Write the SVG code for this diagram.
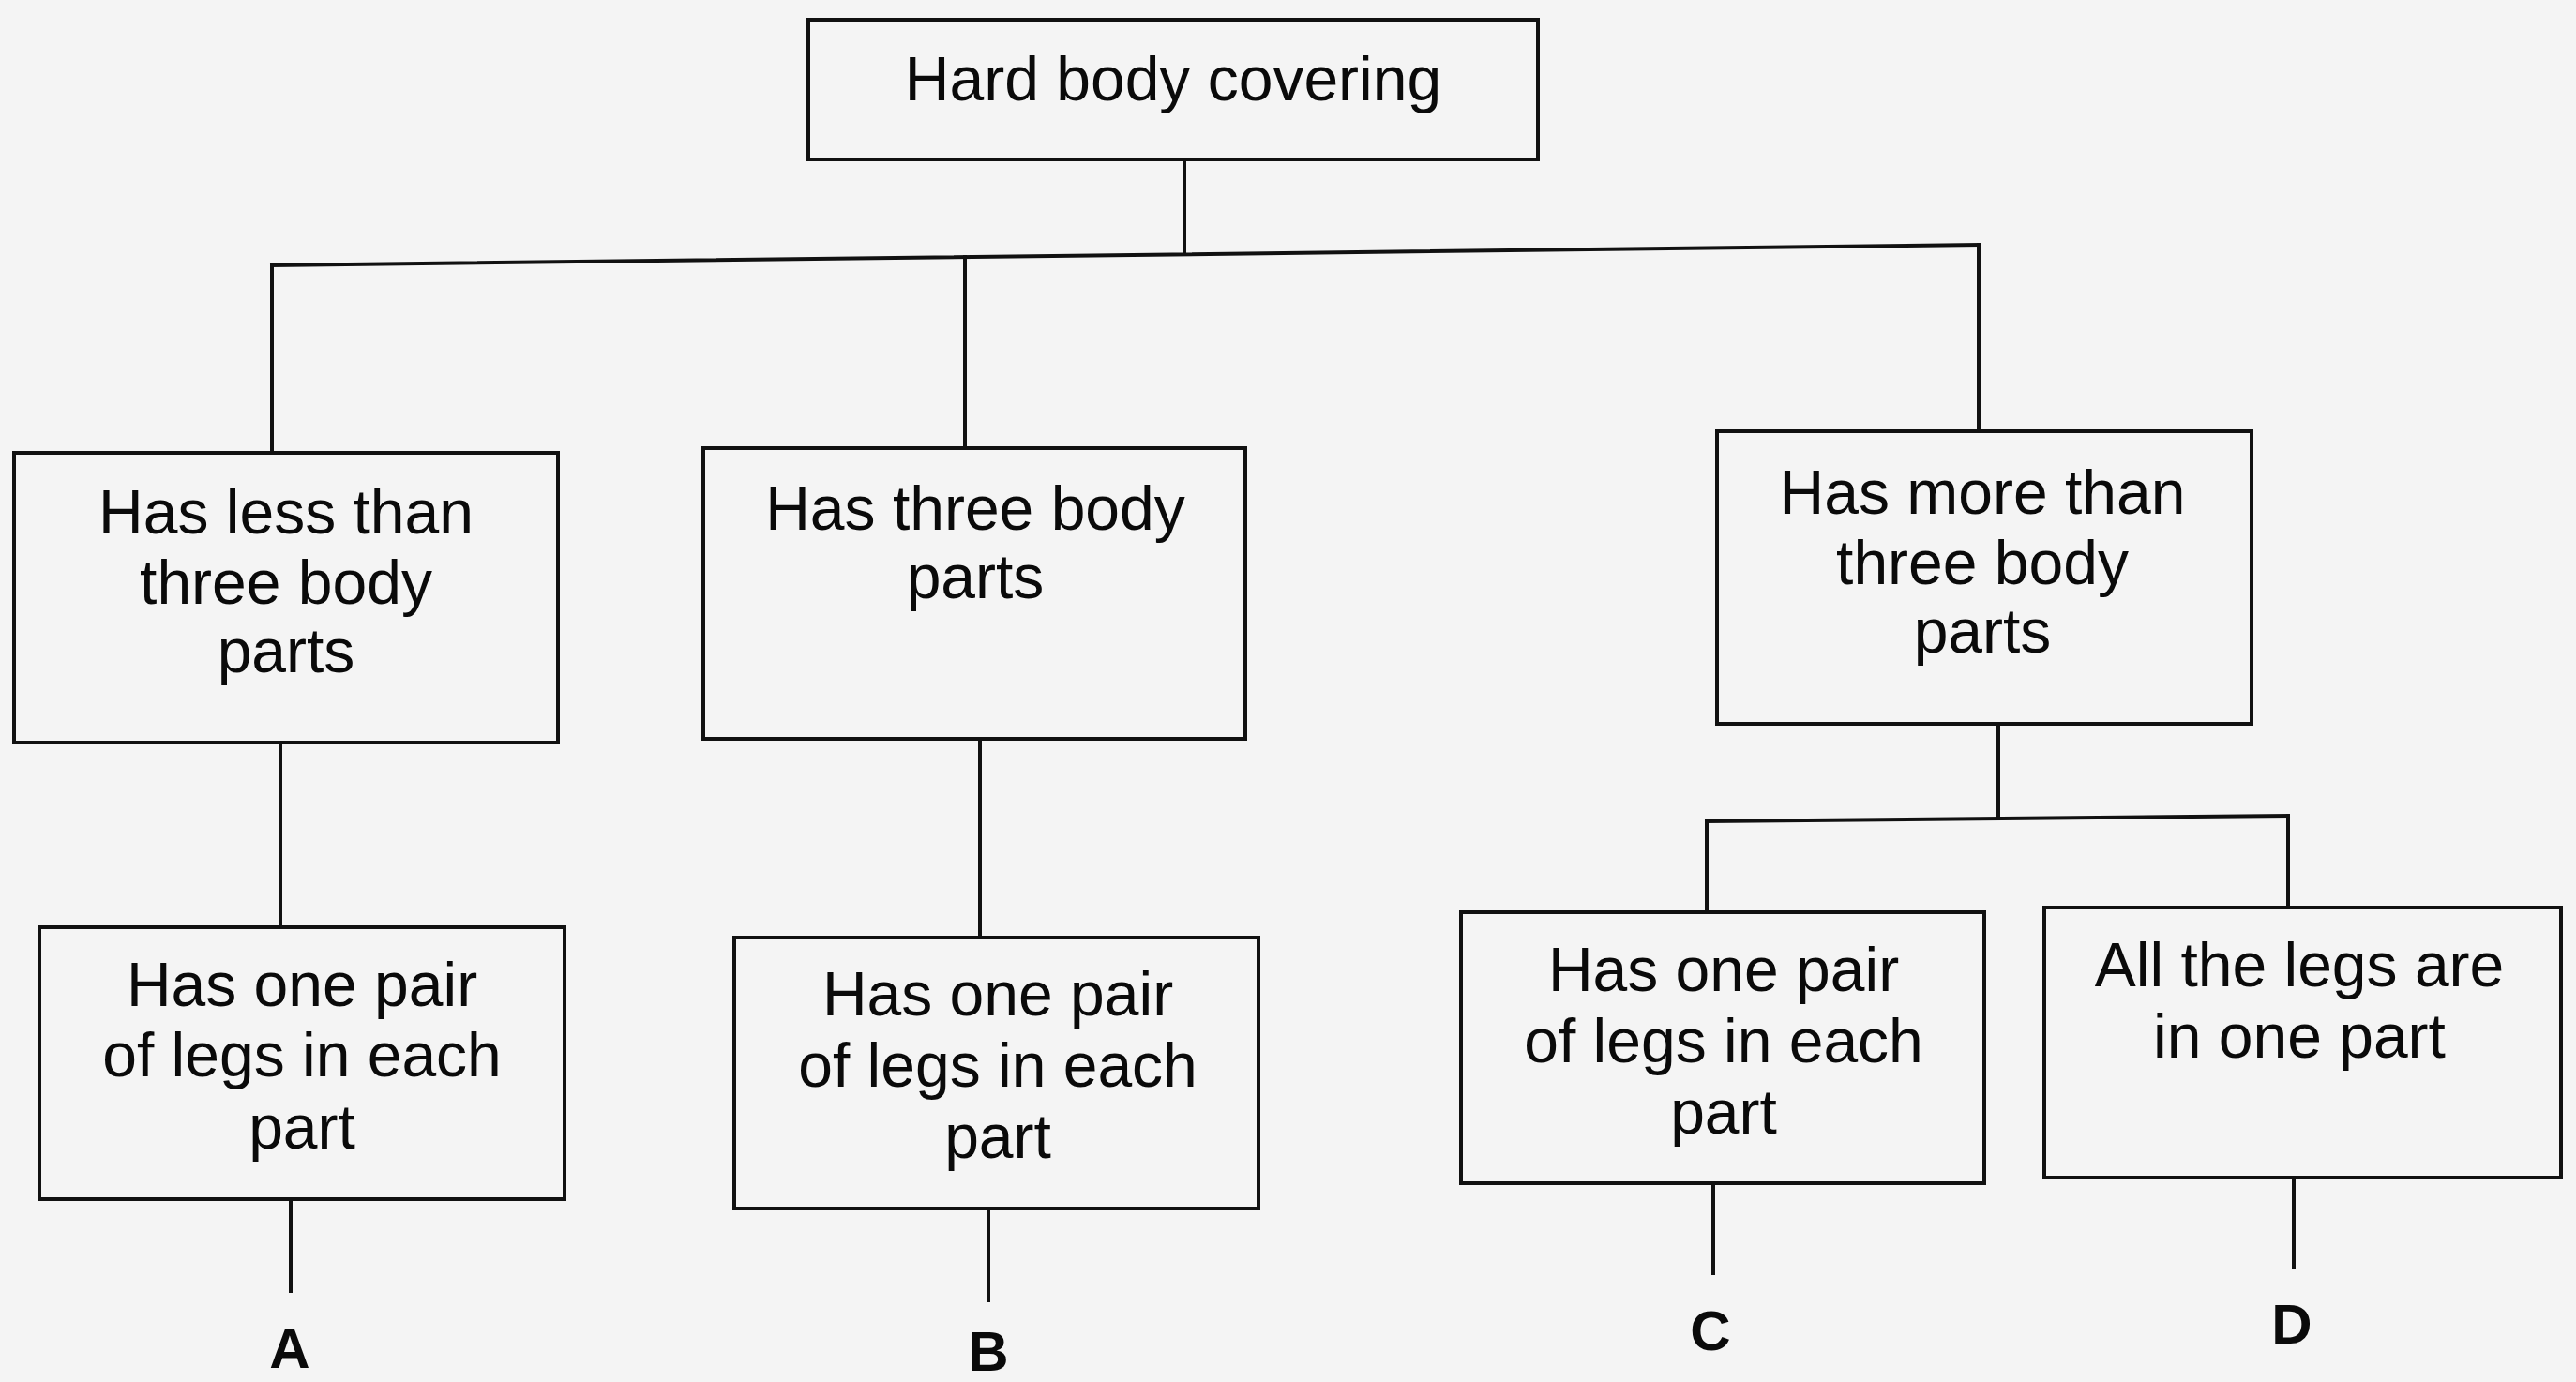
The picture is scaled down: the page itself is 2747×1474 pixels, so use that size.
<svg xmlns="http://www.w3.org/2000/svg" width="2747" height="1474" viewBox="0 0 2747 1474">
<style>
.box{fill:none;stroke:#111;stroke-width:4}
.ln{fill:none;stroke:#111;stroke-width:4;stroke-linecap:square}
.t{font-family:"Liberation Sans",Arial,sans-serif;font-size:66px;fill:#0a0a0a;text-anchor:middle}
.lbl{font-family:"Liberation Sans",Arial,sans-serif;font-size:60px;font-weight:bold;fill:#0a0a0a;text-anchor:middle}
</style>
<rect width="2747" height="1474" fill="#f4f4f4"/>
<g id="connectors">
<path class="ln" d="M1263,170 V271"/>
<path class="ln" d="M290,283 L2110,261"/>
<path class="ln" d="M290,283 V483"/>
<path class="ln" d="M1029,274 V478"/>
<path class="ln" d="M2110,261 V460"/>
<path class="ln" d="M299,792 V989"/>
<path class="ln" d="M310,1279 V1377"/>
<path class="ln" d="M1045,788 V1000"/>
<path class="ln" d="M1054,1289 V1387"/>
<path class="ln" d="M2131,772 V873"/>
<path class="ln" d="M1820,876 L2440,870"/>
<path class="ln" d="M1820,876 V973"/>
<path class="ln" d="M2440,870 V968"/>
<path class="ln" d="M1827,1262 V1358"/>
<path class="ln" d="M2446,1256 V1352"/>
</g>
<g id="root">
<rect class="box" x="862" y="21" width="778" height="149"/>
<text class="t" x="1251" y="107">Hard body covering</text>
</g>
<g id="less-than-three">
<rect class="box" x="15" y="483" width="580" height="309"/>
<text class="t" x="305" y="569">Has less than</text>
<text class="t" x="305" y="644">three body</text>
<text class="t" x="305" y="717">parts</text>
</g>
<g id="three">
<rect class="box" x="750" y="478" width="578" height="310"/>
<text class="t" x="1040" y="565">Has three body</text>
<text class="t" x="1040" y="638">parts</text>
</g>
<g id="more-than-three">
<rect class="box" x="1831" y="460" width="570" height="312"/>
<text class="t" x="2114" y="548">Has more than</text>
<text class="t" x="2114" y="623">three body</text>
<text class="t" x="2114" y="696">parts</text>
</g>
<g id="pair-a">
<rect class="box" x="42" y="989" width="560" height="290"/>
<text class="t" x="322" y="1073">Has one pair</text>
<text class="t" x="322" y="1148">of legs in each</text>
<text class="t" x="322" y="1225">part</text>
</g>
<g id="pair-b">
<rect class="box" x="783" y="1000" width="559" height="289"/>
<text class="t" x="1064" y="1083">Has one pair</text>
<text class="t" x="1064" y="1159">of legs in each</text>
<text class="t" x="1064" y="1235">part</text>
</g>
<g id="pair-c">
<rect class="box" x="1558" y="973" width="558" height="289"/>
<text class="t" x="1838" y="1057">Has one pair</text>
<text class="t" x="1838" y="1133">of legs in each</text>
<text class="t" x="1838" y="1209">part</text>
</g>
<g id="one-part-d">
<rect class="box" x="2180" y="968" width="551" height="288"/>
<text class="t" x="2452" y="1052">All the legs are</text>
<text class="t" x="2452" y="1128">in one part</text>
</g>
<g id="label-a"><text class="lbl" x="309" y="1459">A</text></g>
<g id="label-b"><text class="lbl" x="1054" y="1462">B</text></g>
<g id="label-c"><text class="lbl" x="1824" y="1440">C</text></g>
<g id="label-d"><text class="lbl" x="2444" y="1433">D</text></g>
</svg>
